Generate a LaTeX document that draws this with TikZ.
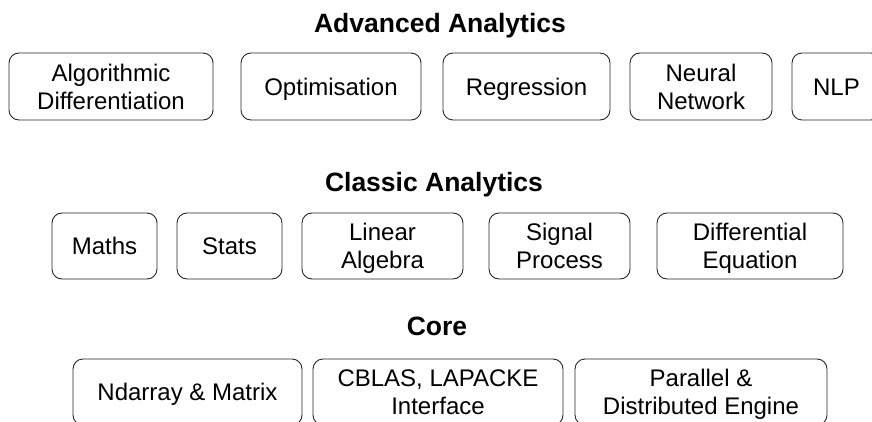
\documentclass[tikz,border=0pt]{standalone}
\usepackage{fontspec}
\setmainfont{Liberation Sans}
\newcommand\Lx[1]{\smash{#1}\rule{0pt}{17.2pt}}
\begin{document}
\begin{tikzpicture}[x=1pt,y=-1pt,
  box/.style={draw=black!85, line width=0.9pt, rounded corners=10pt, rectangle, inner sep=0pt, align=center,
    font=\fontsize{24}{28}\selectfont},
  ttl/.style={anchor=base, inner sep=0pt, font=\fontsize{26.5}{30}\selectfont\bfseries}]
\useasboundingbox (0,0) rectangle (872,422);
\clip (0,0) rectangle (872,422);
% titles
\node[ttl] (t1) at (440,33) {Advanced Analytics};
\node[ttl] (t2) at (434,192) {Classic Analytics};
\node[ttl] (t3) at (437,335) {Core};
% row 1
\node[box, minimum width=204, minimum height=67] (alg) at (111,86.5) {\Lx{Algorithmic}\\\Lx{Differentiation}};
\node[box, minimum width=180, minimum height=67] (opt) at (331,86.5) {\Lx{Optimisation}};
\node[box, minimum width=167, minimum height=67] (reg) at (526.5,86.5) {\Lx{Regression}};
\node[box, minimum width=142, minimum height=67] (nn) at (701,86.5) {\Lx{Neural}\\\Lx{Network}};
\node[box, minimum width=89, minimum height=67] (nlp) at (836.5,86.5) {\Lx{NLP}};
% row 2
\node[box, minimum width=105, minimum height=66] (maths) at (104.5,246) {\Lx{Maths}};
\node[box, minimum width=105, minimum height=66] (stats) at (229.5,246) {\Lx{Stats}};
\node[box, minimum width=161, minimum height=66] (lin) at (382.5,246) {\Lx{Linear}\\\Lx{Algebra}};
\node[box, minimum width=141, minimum height=66] (sig) at (559.5,246) {\Lx{Signal}\\\Lx{Process}};
\node[box, minimum width=186, minimum height=66] (deq) at (750,246) {\Lx{Differential}\\\Lx{Equation}};
% row 3
\node[box, minimum width=229, minimum height=66] (nd) at (187.5,392) {\Lx{Ndarray \& Matrix}};
\node[box, minimum width=250, minimum height=66] (cb) at (438,392) {\Lx{CBLAS, LAPACKE}\\\Lx{Interface}};
\node[box, minimum width=252, minimum height=66] (par) at (701,392) {\Lx{Parallel \&}\\\Lx{Distributed Engine}};
\end{tikzpicture}
\end{document}
